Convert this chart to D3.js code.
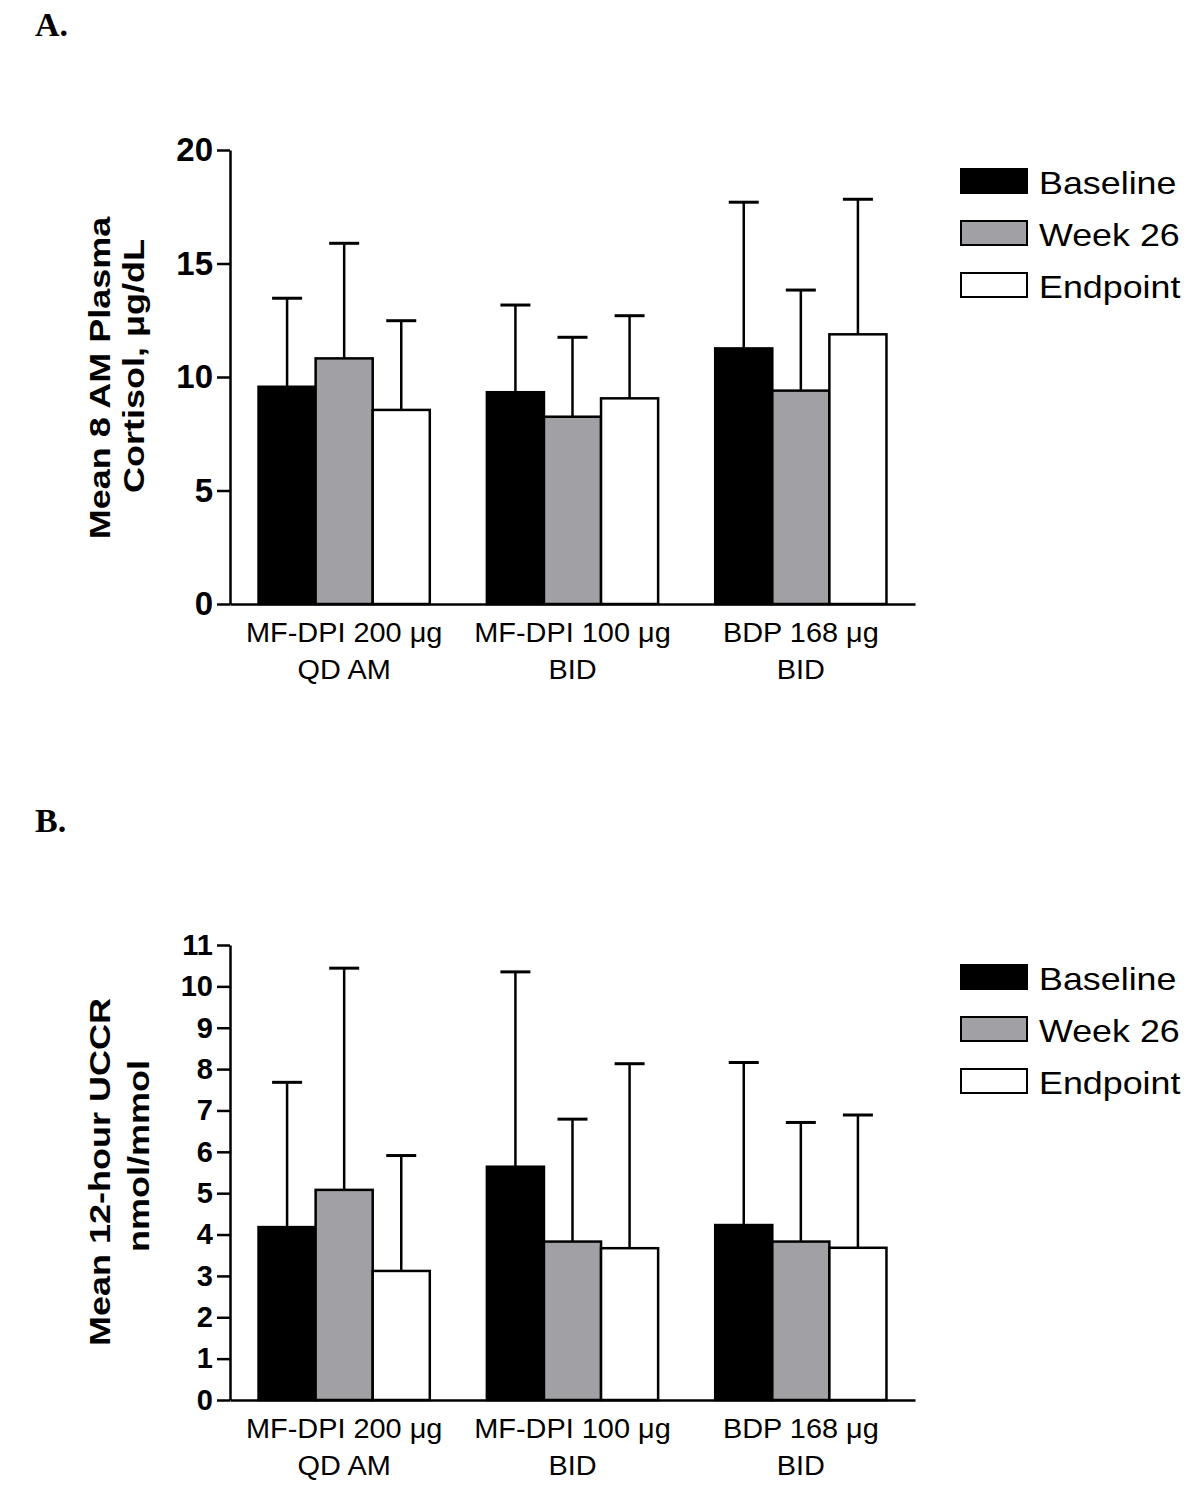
<!DOCTYPE html>
<html><head><meta charset="utf-8">
<script src="https://cdn.jsdelivr.net/npm/d3@7"></script>
<style>body{margin:0;background:#fff}svg{display:block}</style>
</head><body>
<svg id="chart" width="1200" height="1485"></svg>
<script>
// ---- data ----
const groupLine1 = ["MF-DPI 200 \u03bcg", "MF-DPI 100 \u03bcg", "BDP 168 \u03bcg"];
const groupLine2 = ["QD AM", "BID", "BID"];
const seriesNames = ["Baseline", "Week 26", "Endpoint"];
const seriesColors = ["#000000", "#a1a1a5", "#ffffff"];

// Panel A: Mean 8 AM plasma cortisol (µg/dL), mean and SD
const cortisolBaseline = [9.57, 9.33, 11.26];
const cortisolWeek26   = [10.82, 8.25, 9.40];
const cortisolEndpoint = [8.55, 9.06, 11.88];
const cortisolBaselineSD = [3.90, 3.84, 6.44];
const cortisolWeek26SD   = [5.07, 3.50, 4.43];
const cortisolEndpointSD = [3.93, 3.64, 5.95];
const cortisolTicks = [0, 5, 10, 15, 20];

// Panel B: Mean 12-hour UCCR (nmol/mmol), mean and SD
const uccrBaseline = [4.18, 5.64, 4.23];
const uccrWeek26   = [5.08, 3.83, 3.83];
const uccrEndpoint = [3.12, 3.67, 3.68];
const uccrBaselineSD = [3.50, 4.71, 3.93];
const uccrWeek26SD   = [5.36, 2.96, 2.88];
const uccrEndpointSD = [2.79, 4.46, 3.21];
const uccrTicks = [0, 1, 2, 3, 4, 5, 6, 7, 8, 9, 10, 11];

const svg = d3.select("#chart");
const FONT = "'Liberation Sans', Arial, Helvetica, sans-serif";

function drawPanel(cfg) {
  const g = svg.append("g");
  const y = d3.scaleLinear().domain([0, cfg.max]).range([cfg.y0, cfg.y1]);
  const x = d3.scaleBand().domain(d3.range(groupLine1.length)).range([230, 915])
    .paddingInner(0.25).paddingOuter(0.125);
  const xs = d3.scaleBand().domain(d3.range(seriesNames.length)).range([0, x.bandwidth()]).padding(0);

  const rows = [];
  cfg.means.forEach((arr, s) => arr.forEach((v, i) => rows.push({ s, i, v, sd: cfg.sds[s][i] })));

  // bars
  g.selectAll("rect.bar").data(rows).join("rect").attr("class", "bar")
    .attr("x", d => x(d.i) + xs(d.s))
    .attr("y", d => y(d.v))
    .attr("width", xs.bandwidth())
    .attr("height", d => y(0) - y(d.v))
    .attr("fill", d => seriesColors[d.s])
    .attr("stroke", "#000").attr("stroke-width", 2.5);

  // error bars (upper only)
  const eb = g.selectAll("g.err").data(rows).join("g").attr("class", "err");
  eb.append("line")
    .attr("x1", d => x(d.i) + xs(d.s) + xs.bandwidth() / 2)
    .attr("x2", d => x(d.i) + xs(d.s) + xs.bandwidth() / 2)
    .attr("y1", d => y(d.v)).attr("y2", d => y(d.v + d.sd))
    .attr("stroke", "#000").attr("stroke-width", 2.5);
  eb.append("line")
    .attr("x1", d => x(d.i) + xs(d.s) + xs.bandwidth() / 2 - 15)
    .attr("x2", d => x(d.i) + xs(d.s) + xs.bandwidth() / 2 + 15)
    .attr("y1", d => y(d.v + d.sd)).attr("y2", d => y(d.v + d.sd))
    .attr("stroke", "#000").attr("stroke-width", 3);

  // y axis
  const ya = g.append("g").attr("transform", "translate(230,0)")
    .call(d3.axisLeft(y).tickValues(cfg.ticks).tickSize(13).tickSizeOuter(0).tickPadding(4));
  ya.select(".domain").attr("stroke-width", 2.5);
  ya.selectAll(".tick line").attr("stroke-width", 2.5);
  ya.selectAll(".tick text").attr("font-family", FONT).attr("font-weight", "bold")
    .attr("font-size", cfg.tickFont).attr("fill", "#000");

  // x axis
  const xa = g.append("g").attr("transform", `translate(0,${cfg.y0})`)
    .call(d3.axisBottom(x).tickSize(0).tickSizeOuter(0).tickFormat(""));
  xa.select(".domain").attr("stroke-width", 2.5);
  xa.selectAll(".tick").each(function (d) {
    const t = d3.select(this);
    [groupLine1[d], groupLine2[d]].forEach((txt, k) => {
      t.append("text").attr("transform", `translate(0,${38 + k * 37}) scale(1.07,1)`)
        .attr("text-anchor", "middle").attr("font-family", FONT).attr("font-size", 27)
        .attr("fill", "#000").text(txt);
    });
  });

  // y title
  cfg.title.forEach((txt, k) => {
    g.append("text")
      .attr("transform", `translate(${cfg.titleX[k]},${cfg.titleY[k]}) rotate(-90) scale(1.2,1)`)
      .attr("text-anchor", "middle").attr("font-family", FONT).attr("font-weight", "bold")
      .attr("font-size", 30).attr("fill", "#000").text(txt);
  });

  // legend
  const lg = g.selectAll("g.leg").data(seriesNames).join("g").attr("class", "leg")
    .attr("transform", (d, k) => `translate(961,${cfg.legY + k * 52})`);
  lg.append("rect").attr("width", 66).attr("height", 24)
    .attr("fill", (d, k) => seriesColors[k]).attr("stroke", "#000").attr("stroke-width", 2);
  lg.append("text").attr("transform", "translate(78,25) scale(1.12,1)")
    .attr("font-family", FONT).attr("font-size", 32).attr("fill", "#000").text(d => d);

  // panel letter
  g.append("text").attr("x", 35).attr("y", cfg.letterY)
    .attr("font-family", "'Liberation Serif', 'Times New Roman', serif").attr("font-weight", "bold")
    .attr("font-size", 34).attr("fill", "#000").text(cfg.letter);
}

drawPanel({
  letter: "A.", letterY: 36,
  max: 20, y0: 604, y1: 150, ticks: cortisolTicks, tickFont: 33,
  means: [cortisolBaseline, cortisolWeek26, cortisolEndpoint],
  sds: [cortisolBaselineSD, cortisolWeek26SD, cortisolEndpointSD],
  title: ["Mean 8 AM Plasma", "Cortisol, \u03bcg/dL"], titleX: [110, 144], titleY: [378, 366],
  legY: 169
});
drawPanel({
  letter: "B.", letterY: 832,
  max: 11, y0: 1400, y1: 945, ticks: uccrTicks, tickFont: 29,
  means: [uccrBaseline, uccrWeek26, uccrEndpoint],
  sds: [uccrBaselineSD, uccrWeek26SD, uccrEndpointSD],
  title: ["Mean 12-hour UCCR", "nmol/mmol"], titleX: [110, 149], titleY: [1172, 1156],
  legY: 965
});
</script>
</body></html>
